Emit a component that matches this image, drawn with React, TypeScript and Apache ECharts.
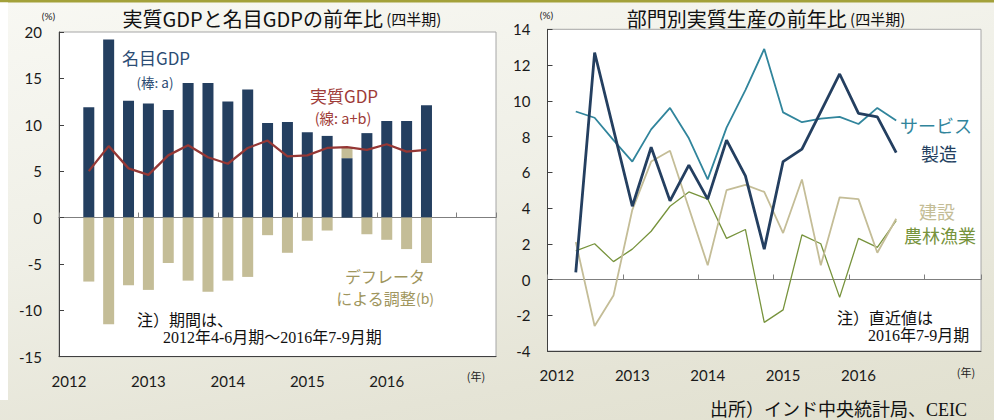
import React, { useEffect, useRef } from 'react';
import * as echarts from 'echarts';

// Quarter categories (2012Q1 .. 2017Q3); data start at 2012Q2
const quarterLabels = [
  '2012Q1', '2012Q2', '2012Q3', '2012Q4',
  '2013Q1', '2013Q2', '2013Q3', '2013Q4',
  '2014Q1', '2014Q2', '2014Q3', '2014Q4',
  '2015Q1', '2015Q2', '2015Q3', '2015Q4',
  '2016Q1', '2016Q2', '2016Q3', '2016Q4',
  '2017Q1', '2017Q2', '2017Q3',
];
const yearTickLabels = ['2012', '2013', '2014', '2015', '2016'];
const leftCategoryCount = 22;
const rightCategoryCount = 23;
const dataStartIndex = 1;

// Left chart (%, y/y)
const nominalGDP = [11.9, 19.2, 12.6, 12.3, 11.6, 14.5, 14.5, 12.5, 13.8, 10.2, 10.3, 9.2, 8.8, 6.4, 9.1, 10.4, 10.4, 12.1];
const deflatorAdj = [-6.9, -11.5, -7.3, -7.8, -4.9, -6.8, -8.0, -6.8, -6.4, -1.9, -3.8, -2.5, -1.4, 1.1, -1.8, -2.4, -3.4, -4.9];
const realGDP = [5.0, 7.7, 5.3, 4.6, 6.7, 7.8, 6.5, 5.8, 7.5, 8.3, 6.6, 6.7, 7.5, 7.6, 7.3, 7.9, 7.1, 7.3];

// Right chart (%, y/y)
const services = [9.4, 9.05, 7.8, 6.6, 8.4, 9.6, 7.9, 5.6, 8.5, 10.6, 12.9, 9.35, 8.8, 9.0, 9.1, 8.7, 9.6, 8.9];
const manufacturing = [0.4, 12.7, 8.4, 4.1, 7.4, 4.4, 6.4, 4.5, 7.8, 5.8, 1.7, 6.6, 7.3, 9.4, 11.5, 9.3, 9.1, 7.1];
const construction = [2.1, -2.6, -0.9, 3.9, 6.6, 7.2, 4.0, 0.8, 5.0, 5.3, 4.9, 2.6, 5.6, 0.8, 4.6, 4.5, 1.5, 3.4];
const agriculture = [1.6, 2.0, 1.0, 1.7, 2.7, 4.1, 4.9, 4.5, 2.3, 2.8, -2.4, -1.7, 2.5, 2.0, -1.0, 2.3, 1.8, 3.3];

// Axis ranges
const leftY = { min: -15, max: 20, interval: 5 };
const rightY = { min: -4, max: 14, interval: 2 };

const LATIN = "Lato, 'Noto Sans CJK JP', sans-serif";
const JP = "'Noto Sans CJK JP', Lato, sans-serif";
const SERIF = "'Liberation Serif', 'Noto Sans CJK JP', serif";

const NAVY = '#243F60';
const TAN = '#C4BD97';
const RED = '#953735';
const TEAL = '#31859C';
const GREEN = '#77933C';

function pad(values: number[], total: number): (number | null)[] {
  const out: (number | null)[] = new Array(total).fill(null);
  values.forEach((v, i) => {
    out[dataStartIndex + i] = v;
  });
  return out;
}

const yearFmt = (v: string) => {
  if (!v.endsWith('Q1')) return '';
  const y = v.slice(0, 4);
  return yearTickLabels.indexOf(y) >= 0 ? y : '';
};

function text(x: number, y: number, t: string, size: number, color: string, family = JP, align = 'left') {
  return {
    type: 'text',
    x,
    y,
    silent: true,
    style: {
      text: t,
      fontSize: size,
      fontFamily: family,
      fill: color,
      textAlign: align,
      textVerticalAlign: 'middle',
    },
  };
}

function richText(x: number, y: number, t: string, rich: any, align = 'center') {
  return {
    type: 'text',
    x,
    y,
    silent: true,
    style: { text: t, rich, textAlign: align, textVerticalAlign: 'middle' },
  };
}

export default function App() {
  const ref = useRef<HTMLDivElement>(null);

  useEffect(() => {
    document.body.style.margin = '0';
    if (!ref.current) return;
    const chart = echarts.init(ref.current, undefined, { renderer: 'svg' });

    const leftCats = quarterLabels.slice(0, leftCategoryCount);
    const rightCats = quarterLabels.slice(0, rightCategoryCount);

    const bottomAxis = (gridIndex: number, data: string[], margin: number) => ({
      gridIndex,
      type: 'category',
      data,
      position: 'bottom',
      axisLine: { show: true, onZero: false, lineStyle: { color: '#404040', width: 1 } },
      axisTick: { show: false },
      axisLabel: { interval: 0, formatter: yearFmt, margin, fontSize: 15, fontFamily: LATIN, color: '#1a1a1a' },
      splitLine: { show: false },
    });
    const zeroAxis = (gridIndex: number, data: string[]) => ({
      gridIndex,
      type: 'category',
      data,
      position: 'top',
      axisLine: { show: true, onZero: true, lineStyle: { color: '#7f7f7f', width: 1.2 } },
      axisTick: { show: true, interval: 3, length: 5, lineStyle: { color: '#7f7f7f' } },
      axisLabel: { show: false },
      splitLine: { show: false },
    });
    const valueAxis = (gridIndex: number, r: { min: number; max: number; interval: number }) => ({
      gridIndex,
      type: 'value',
      min: r.min,
      max: r.max,
      interval: r.interval,
      axisLine: { show: true, lineStyle: { color: '#404040', width: 1 } },
      axisTick: { show: true, inside: true, length: 5, lineStyle: { color: '#404040' } },
      axisLabel: { fontSize: 15, fontFamily: LATIN, color: '#1a1a1a', margin: 17 },
      splitLine: { show: false },
    });

    const lineSeries = (name: string, values: number[], color: string, width: number, z: number) => ({
      name,
      type: 'line',
      xAxisIndex: 2,
      yAxisIndex: 1,
      data: pad(values, rightCategoryCount),
      symbol: 'none',
      showSymbol: false,
      lineStyle: { color, width },
      itemStyle: { color },
      z,
    });

    const option: any = {
      animation: false,
      backgroundColor: 'transparent',
      grid: [
        { left: 59, top: 32, width: 437, height: 324.7, show: true, backgroundColor: '#ffffff', borderColor: '#a6a6a6', borderWidth: 1, containLabel: false, outerBoundsMode: 'none' },
        { left: 547.5, top: 29.3, width: 433.5, height: 321.7, show: true, backgroundColor: '#ffffff', borderColor: '#a6a6a6', borderWidth: 1, containLabel: false, outerBoundsMode: 'none' },
      ],
      xAxis: [
        bottomAxis(0, leftCats, 17),
        zeroAxis(0, leftCats),
        bottomAxis(1, rightCats, 16),
        zeroAxis(1, rightCats),
      ],
      yAxis: [valueAxis(0, leftY), valueAxis(1, rightY)],
      series: [
        {
          name: '名目GDP',
          type: 'bar',
          xAxisIndex: 0,
          yAxisIndex: 0,
          stack: 'gdp',
          data: pad(nominalGDP, leftCategoryCount),
          barWidth: 11,
          itemStyle: { color: NAVY },
        },
        {
          name: 'デフレータによる調整',
          type: 'bar',
          xAxisIndex: 0,
          yAxisIndex: 0,
          stack: 'gdp',
          data: pad(deflatorAdj, leftCategoryCount),
          barWidth: 11,
          itemStyle: { color: TAN },
        },
        {
          name: '実質GDP',
          type: 'line',
          xAxisIndex: 0,
          yAxisIndex: 0,
          data: pad(realGDP, leftCategoryCount),
          symbol: 'none',
          showSymbol: false,
          lineStyle: { color: RED, width: 2.3 },
          itemStyle: { color: RED },
          z: 5,
        },
        lineSeries('農林漁業', agriculture, GREEN, 1.3, 3),
        lineSeries('建設', construction, TAN, 1.8, 3),
        lineSeries('サービス', services, TEAL, 1.8, 4),
        lineSeries('製造', manufacturing, NAVY, 2.8, 5),
      ],
      graphic: [
        { type: 'rect', silent: true, z: -10, shape: { x: 0, y: 0, width: 994, height: 2.5 }, style: { fill: '#A3A13A' } },
        { type: 'rect', silent: true, z: -10, shape: { x: 0, y: 2.5, width: 8, height: 397.5 }, style: { fill: '#ffffff' } },
        // titles
        richText(282, 18, '{a|実質GDPと名目GDPの前年比} {b|(四半期)}', {
          a: { fontSize: 20, fontFamily: JP, fill: '#111' },
          b: { fontSize: 15, fontFamily: JP, fill: '#111' },
        }),
        richText(766, 18, '{a|部門別実質生産の前年比} {b|(四半期)}', {
          a: { fontSize: 20, fontFamily: JP, fill: '#111' },
          b: { fontSize: 15, fontFamily: JP, fill: '#111' },
        }),
        // units
        text(48.5, 15.5, '(%)', 10, '#222', LATIN, 'center'),
        text(546.5, 15, '(%)', 10, '#222', LATIN, 'center'),
        text(476, 376, '(年)', 11, '#222', JP, 'center'),
        text(966, 372, '(年)', 11, '#222', JP, 'center'),
        // left annotations
        text(156, 57, '名目GDP', 17, '#2B4C74', JP, 'center'),
        text(155, 82, '(棒: a)', 13.5, '#2B4C74', JP, 'center'),
        text(344, 95, '実質GDP', 17, '#9E3B38', JP, 'center'),
        text(343, 117.5, '(線: a+b)', 14.5, '#9E3B38', JP, 'center'),
        text(385, 276, 'デフレータ', 16, '#A0965E', JP, 'center'),
        richText(385, 298, '{a|による調整}{b|(b)}', {
          a: { fontSize: 16, fontFamily: JP, fill: '#A0965E' },
          b: { fontSize: 14, fontFamily: JP, fill: '#A0965E' },
        }),
        text(137, 320, '注）期間は、', 16, '#111', SERIF, 'left'),
        text(163, 337, '2012年4-6月期〜2016年7-9月期', 16, '#111', SERIF, 'left'),
        // right annotations
        text(936, 125, 'サービス', 18, TEAL, JP, 'center'),
        text(939, 153, '製造', 18, NAVY, JP, 'center'),
        text(937, 211, '建設', 18, TAN, JP, 'center'),
        text(940, 235, '農林漁業', 18, GREEN, JP, 'center'),
        text(837, 318, '注）直近値は', 16, '#111', SERIF, 'left'),
        text(868, 335, '2016年7-9月期', 16, '#111', SERIF, 'left'),
        // source
        text(967, 410, '出所）インド中央統計局、CEIC', 18, '#111', SERIF, 'right'),
      ],
    };

    chart.setOption(option);
    return () => {
      chart.dispose();
    };
  }, []);

  return (
    <div
      ref={ref}
      style={{
        position: 'absolute',
        left: 0,
        top: 0,
        width: 994,
        height: 420,
        background: 'linear-gradient(170deg, #F8F8F3 0%, #EFEFE6 45%, #E5E4D6 80%, #E1E0CF 100%)',
      }}
    />
  );
}
